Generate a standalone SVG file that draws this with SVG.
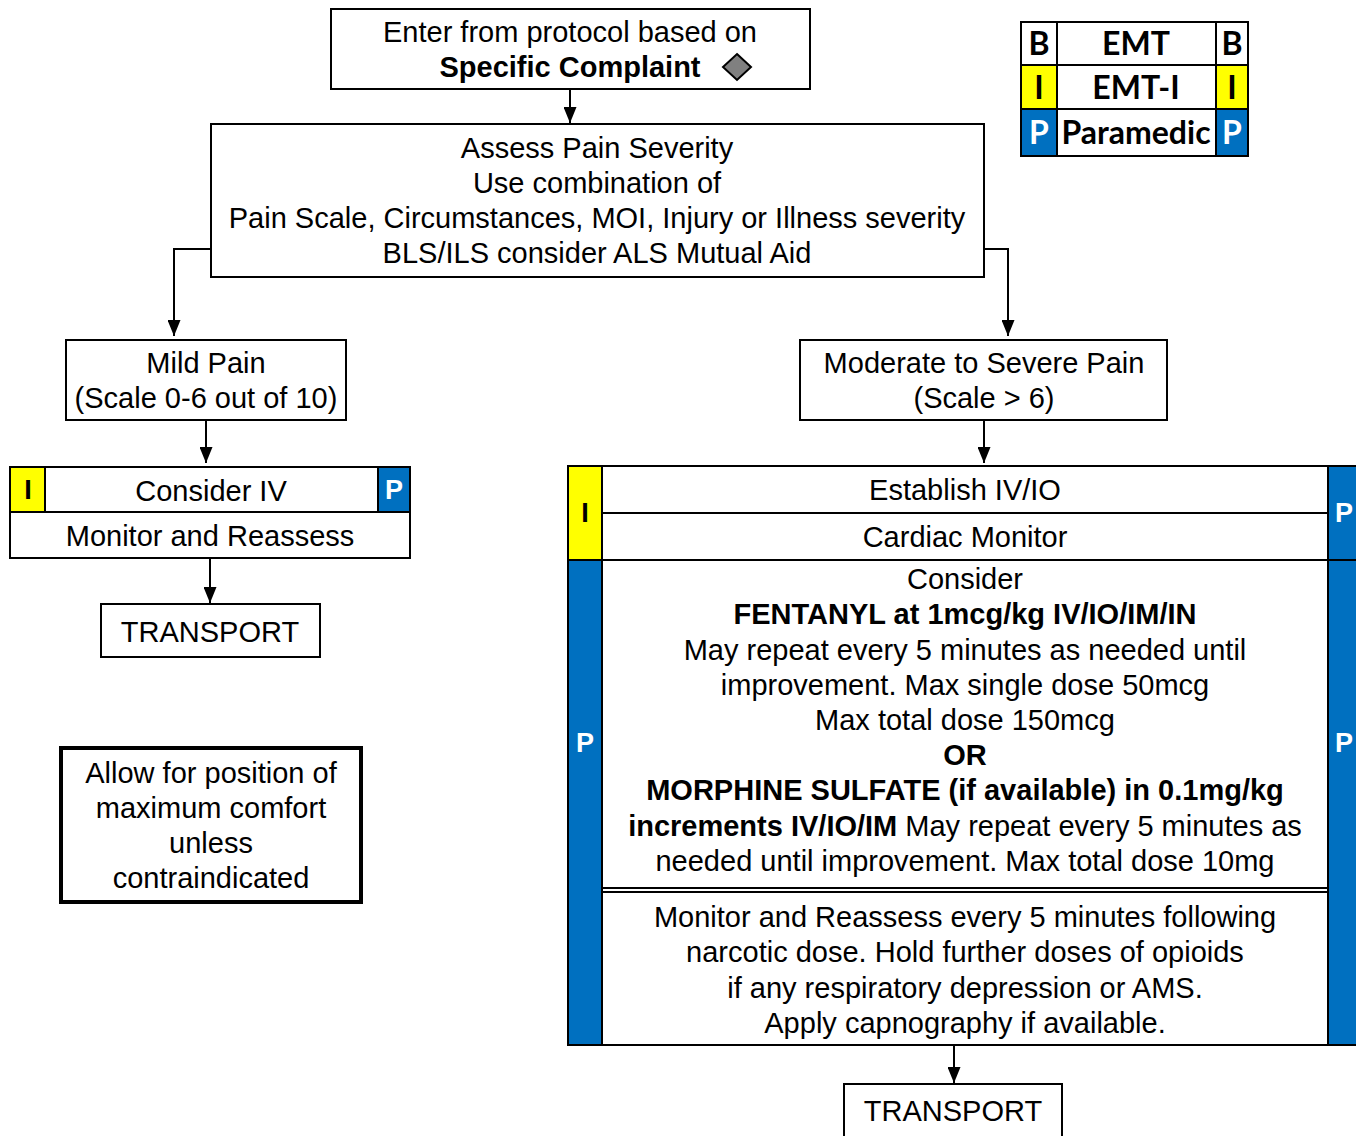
<svg xmlns="http://www.w3.org/2000/svg" width="1356" height="1136" viewBox="0 0 1356 1136">
<style>
.t{font-family:"Liberation Sans",Arial,sans-serif;font-size:29px;fill:#000;text-anchor:middle}
.b{font-weight:bold}
.box{fill:#fff;stroke:#000;stroke-width:2}
.y{fill:#ffff00;stroke:#000;stroke-width:2}
.bl{fill:#0070c0;stroke:#000;stroke-width:2}
.lg{font-family:Lato,"Open Sans",sans-serif;font-weight:bold;font-size:32px;text-anchor:middle}
.lb{font-family:"Liberation Sans",Arial,sans-serif;font-weight:bold;font-size:27px;text-anchor:middle}
.w{fill:#fff}
.c{fill:none;stroke:#000;stroke-width:2}
</style>
<defs>
<marker id="a" markerWidth="16" markerHeight="13" refX="16" refY="6.5" orient="auto" markerUnits="userSpaceOnUse" viewBox="0 0 16 13">
<path d="M0,0 L16,6.5 L0,13 Z" fill="#000"/>
</marker>
</defs>

<g id="connectors">
<line class="c" x1="570" y1="89" x2="570" y2="123" marker-end="url(#a)"/>
<polyline class="c" points="211,249 174,249 174,336" marker-end="url(#a)"/>
<polyline class="c" points="984,249 1008,249 1008,336" marker-end="url(#a)"/>
<line class="c" x1="206" y1="420" x2="206" y2="463" marker-end="url(#a)"/>
<line class="c" x1="210" y1="558" x2="210" y2="603" marker-end="url(#a)"/>
<line class="c" x1="984" y1="420" x2="984" y2="463" marker-end="url(#a)"/>
<line class="c" x1="954" y1="1045" x2="954" y2="1083" marker-end="url(#a)"/>
</g>

<g id="entry">
<rect class="box" x="331" y="9" width="479" height="80"/>
<text class="t" x="570" y="42">Enter from protocol based on</text>
<text class="t b" x="570" y="77">Specific Complaint</text>
<path d="M737,54 L751,67 L737,80 L723,67 Z" fill="#808080" stroke="#000" stroke-width="2"/>
</g>

<g id="assess">
<rect class="box" x="211" y="124" width="773" height="153"/>
<text class="t" x="597" y="158">Assess Pain Severity</text>
<text class="t" x="597" y="193">Use combination of</text>
<text class="t" x="597" y="228">Pain Scale, Circumstances, MOI, Injury or Illness severity</text>
<text class="t" x="597" y="263">BLS/ILS consider ALS Mutual Aid</text>
</g>

<g id="legend">
<rect class="box" x="1021" y="22" width="227" height="134"/>
<rect x="1021" y="22" width="36" height="43" class="box"/>
<rect x="1216" y="22" width="32" height="43" class="box"/>
<rect x="1021" y="65" width="36" height="44" class="y"/>
<rect x="1216" y="65" width="32" height="44" class="y"/>
<rect x="1021" y="109" width="36" height="47" class="bl"/>
<rect x="1216" y="109" width="32" height="47" class="bl"/>
<line class="c" x1="1057" y1="65" x2="1216" y2="65"/>
<line class="c" x1="1057" y1="109" x2="1216" y2="109"/>
<text class="lg" x="1039" y="55">B</text>
<text class="lg" x="1136" y="55">EMT</text>
<text class="lg" x="1232" y="55">B</text>
<text class="lg" x="1039" y="99">I</text>
<text class="lg" x="1136" y="99">EMT-I</text>
<text class="lg" x="1232" y="99">I</text>
<text class="lg w" x="1039" y="144">P</text>
<text class="lg" x="1136" y="144">Paramedic</text>
<text class="lg w" x="1232" y="144">P</text>
</g>

<g id="mild">
<rect class="box" x="66" y="340" width="280" height="80"/>
<text class="t" x="206" y="373">Mild Pain</text>
<text class="t" x="206" y="408">(Scale 0-6 out of 10)</text>
</g>

<g id="moderate">
<rect class="box" x="800" y="340" width="367" height="80"/>
<text class="t" x="984" y="373">Moderate to Severe Pain</text>
<text class="t" x="984" y="408">(Scale &gt; 6)</text>
</g>

<g id="consider-iv">
<rect class="box" x="10" y="467" width="400" height="91"/>
<line class="c" x1="10" y1="512" x2="410" y2="512"/>
<rect class="y" x="10" y="467" width="35" height="45"/>
<rect class="bl" x="378" y="467" width="32" height="45"/>
<text class="lb" x="28" y="499">I</text>
<text class="lb w" x="394" y="499">P</text>
<text class="t" x="211" y="501">Consider IV</text>
<text class="t" x="210" y="546">Monitor and Reassess</text>
</g>

<g id="transport-left">
<rect class="box" x="101" y="604" width="219" height="53"/>
<text class="t" x="210" y="642">TRANSPORT</text>
</g>

<g id="comfort">
<rect x="61" y="748" width="300" height="154" fill="#fff" stroke="#000" stroke-width="4"/>
<text class="t" x="211" y="783">Allow for position of</text>
<text class="t" x="211" y="818">maximum comfort</text>
<text class="t" x="211" y="853">unless</text>
<text class="t" x="211" y="888">contraindicated</text>
</g>

<g id="treatment">
<rect class="box" x="568" y="466" width="800" height="579"/>
<rect class="y" x="568" y="466" width="34" height="94"/>
<rect class="bl" x="568" y="560" width="34" height="485"/>
<rect class="bl" x="1328" y="466" width="40" height="94"/>
<rect class="bl" x="1328" y="560" width="40" height="485"/>
<line class="c" x1="602" y1="513" x2="1328" y2="513"/>
<line class="c" x1="602" y1="560" x2="1328" y2="560"/>
<line class="c" x1="602" y1="888" x2="1328" y2="888"/>
<line class="c" x1="602" y1="892" x2="1328" y2="892"/>
<text class="lb" x="585" y="522">I</text>
<text class="lb w" x="585" y="752">P</text>
<text class="lb w" x="1344" y="522">P</text>
<text class="lb w" x="1344" y="752">P</text>
<text class="t" x="965" y="500">Establish IV/IO</text>
<text class="t" x="965" y="547">Cardiac Monitor</text>
<text class="t" x="965" y="589">Consider</text>
<text class="t b" x="965" y="624">FENTANYL at 1mcg/kg IV/IO/IM/IN</text>
<text class="t" x="965" y="660">May repeat every 5 minutes as needed until</text>
<text class="t" x="965" y="695">improvement. Max single dose 50mcg</text>
<text class="t" x="965" y="730">Max total dose 150mcg</text>
<text class="t b" x="965" y="765">OR</text>
<text class="t b" x="965" y="800">MORPHINE SULFATE (if available) in 0.1mg/kg</text>
<text class="t" x="965" y="836"><tspan class="b">increments IV/IO/IM</tspan> May repeat every 5 minutes as</text>
<text class="t" x="965" y="871">needed until improvement. Max total dose 10mg</text>
<text class="t" x="965" y="927">Monitor and Reassess every 5 minutes following</text>
<text class="t" x="965" y="962">narcotic dose. Hold further doses of opioids</text>
<text class="t" x="965" y="998">if any respiratory depression or AMS.</text>
<text class="t" x="965" y="1033">Apply capnography if available.</text>
</g>

<g id="transport-right">
<rect class="box" x="844" y="1084" width="218" height="60"/>
<text class="t" x="953" y="1121">TRANSPORT</text>
</g>
</svg>
